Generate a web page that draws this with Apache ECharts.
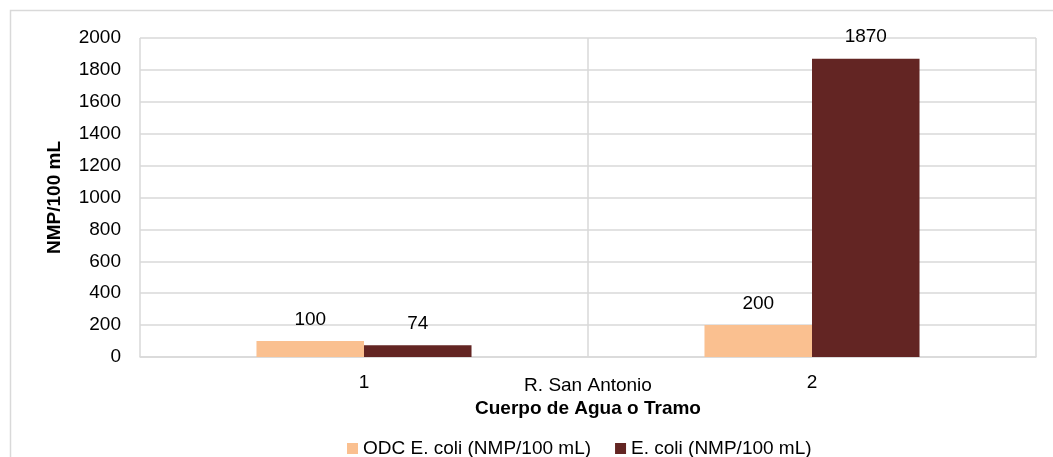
<!DOCTYPE html>
<html>
<head>
<meta charset="utf-8">
<script src="https://cdn.jsdelivr.net/npm/echarts@6/dist/echarts.min.js"></script>
<style>
html,body{margin:0;padding:0;background:#fff;}
#c{width:1053px;height:457px;}
</style>
</head>
<body>
<div id="c"></div>
<script>
var categories = ['1', '2'];
var groupLabels = ['R. San Antonio'];
var seriesNames = ['ODC E. coli (NMP/100 mL)', 'E. coli (NMP/100 mL)'];
var odcValues = [100, 200];
var ecoliValues = [74, 1870];
var yTicks = { min: 0, max: 2000, interval: 200 };

var FONT = 'Liberation Sans, Arial, sans-serif';
var FS = 19;
var chart = echarts.init(document.getElementById('c'));
chart.setOption({
  animation: false,
  textStyle: { fontFamily: FONT },
  graphic: [{
    type: 'rect', left: 8, top: 8, silent: true,
    shape: { width: 1200, height: 600 },
    style: { fill: 'none', stroke: '#d9d9d9', lineWidth: 1.5 }
  }],
  grid: { left: 140, right: 17, top: 38, bottom: 100 },
  legend: {
    left: 342, top: 434,
    itemWidth: 11, itemHeight: 11, itemGap: 24,
    icon: 'rect',
    textStyle: { fontSize: FS, color: '#000', fontFamily: FONT },
    data: seriesNames
  },
  xAxis: [{
    type: 'category',
    data: categories,
    axisLine: { show: true, lineStyle: { color: '#d9d9d9', width: 1.5 } },
    axisTick: { show: false },
    splitLine: { show: true, interval: 0, lineStyle: { color: '#d9d9d9', width: 1.5 } },
    axisLabel: { fontSize: FS, color: '#000', margin: 16, fontFamily: FONT },
    name: 'Cuerpo de Agua o Tramo',
    nameLocation: 'middle',
    nameGap: 42,
    nameTextStyle: { fontSize: FS, fontWeight: 'bold', color: '#000', fontFamily: FONT }
  }, {
    type: 'category',
    data: groupLabels,
    position: 'bottom',
    axisLine: { show: false },
    axisTick: { show: false },
    splitLine: { show: false },
    axisLabel: { fontSize: FS, color: '#000', margin: 19, fontFamily: FONT }
  }],
  yAxis: {
    type: 'value',
    min: yTicks.min, max: yTicks.max, interval: yTicks.interval,
    axisLine: { show: false },
    axisTick: { show: false },
    splitLine: { show: true, lineStyle: { color: '#d9d9d9', width: 1.5 } },
    axisLabel: { fontSize: FS, color: '#000', margin: 19, fontFamily: FONT,
      formatter: function (v) { return String(v); } },
    name: 'NMP/100 mL',
    nameLocation: 'middle',
    nameRotate: 90,
    nameGap: 76,
    nameTextStyle: { fontSize: FS, fontWeight: 'bold', color: '#000', fontFamily: FONT }
  },
  series: [{
    name: seriesNames[0],
    type: 'bar',
    xAxisIndex: 0,
    data: odcValues,
    barWidth: '24%',
    barGap: '0%',
    itemStyle: { color: '#FAC090' },
    label: { show: true, position: 'top', distance: 12, fontSize: FS, color: '#000', fontFamily: FONT }
  }, {
    name: seriesNames[1],
    type: 'bar',
    xAxisIndex: 0,
    data: ecoliValues,
    barWidth: '24%',
    barGap: '0%',
    itemStyle: { color: '#632523' },
    label: { show: true, position: 'top', distance: 12, fontSize: FS, color: '#000', fontFamily: FONT }
  }]
});
</script>
</body>
</html>
